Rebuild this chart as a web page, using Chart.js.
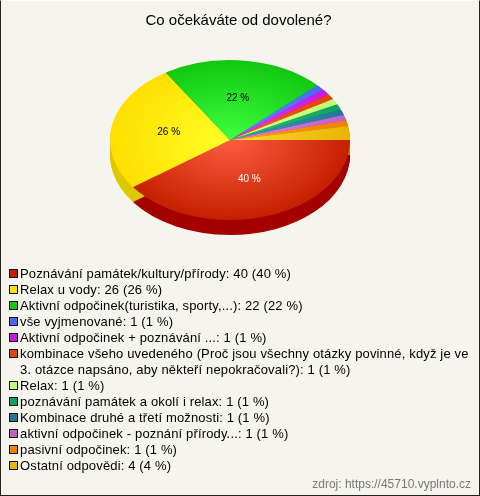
<!DOCTYPE html>
<html>
<head>
<meta charset="utf-8">
<script src="https://cdn.jsdelivr.net/npm/chart.js@4"></script>
<style>
  html, body { margin: 0; padding: 0; }
  #wrap { position: relative; width: 480px; height: 496px; box-sizing: border-box; background: #f5f5ee;
          border: 1px solid #222; border-top-color: #fff; overflow: hidden; }
  canvas { position: absolute; left: -1px; top: -1px; }
  #legend { position: absolute; left: 8px; top: 265px; width: 464px; font: 13px/16px 'Liberation Sans', Arial, sans-serif; letter-spacing: .15px; color: #000; }
  #legend div { position: relative; padding-left: 11px; }
  #legend i { position: absolute; left: 0; top: 3px; width: 7px; height: 7px; border: 1px solid #111; }
</style>
</head>
<body>
<div id="wrap">
  <canvas id="chart" width="480" height="496"></canvas>
  <div id="legend"></div>
</div>
<script>
const labels = [
  'Poznávání památek/kultury/přírody',
  'Relax u vody',
  'Aktivní odpočinek(turistika, sporty,...)',
  'vše vyjmenované',
  'Aktivní odpočinek + poznávání ...',
  'kombinace všeho uvedeného (Proč jsou všechny otázky povinné, když je ve 3. otázce napsáno, aby někteří nepokračovali?)',
  'Relax',
  'poznávání památek a okolí i relax',
  'Kombinace druhé a třetí možnosti',
  'aktivní odpočinek - poznání přírody...',
  'pasivní odpočinek',
  'Ostatní odpovědi',
];
const values = [40, 26, 22, 1, 1, 1, 1, 1, 1, 1, 1, 4];
const percents = [40, 26, 22, 1, 1, 1, 1, 1, 1, 1, 1, 4];
const sliceSizes = [40, 26, 22, 1.15, 1.15, 1.15, 1.15, 1.15, 1.15, 1.15, 1.15, 2.8];

// legend box / slice rim colour, lighter centre colour, side wall colour
const rimColors = ['#c42000', '#ffdf00', '#10c810', '#4a68f8', '#c818e0', '#e84000', '#c0ff70', '#10a060', '#1f7a98', '#c060c8', '#f08000', '#e8b400'];
const midColors = ['#ff5c40', '#ffff28', '#40ff40', '#6a88ff', '#e838ff', '#ff6020', '#d8ff90', '#30c080', '#3f9ab8', '#e080e8', '#ffa020', '#ffd830'];
const sideColors = ['#a50000', '#e0c800', '#0a9a0a', '#3040b0', '#9010a0', '#b03000', '#90c050', '#087040', '#105870', '#904898', '#b86000', '#b08800'];
const pieLabelColors = ['#fff', '#000', '#000'];

const pieX = 230, pieY = 140, squash = 2 / 3, depth = 15, labelRatio = 0.52;

function sliceGradient(ctx) {
  const chart = ctx.chart, a = chart.chartArea;
  if (!a) return rimColors[ctx.dataIndex];
  const cx = (a.left + a.right) / 2, cy = (a.top + a.bottom) / 2;
  const g = chart.ctx.createRadialGradient(cx, cy, 0, cx, cy, 120);
  g.addColorStop(0, midColors[ctx.dataIndex]);
  g.addColorStop(1, rimColors[ctx.dataIndex]);
  return g;
}

// squash the round pie into an ellipse, and paint the side wall under it
const tiltPlugin = {
  id: 'tilt',
  beforeDatasetsDraw(chart) {
    const c = chart.ctx, a = chart.chartArea;
    const cx = (a.left + a.right) / 2, cy = (a.top + a.bottom) / 2;
    c.save();
    c.translate(pieX, pieY);
    c.scale(1, squash);
    c.translate(-cx, -cy);
    chart.getDatasetMeta(0).data.forEach((arc, i) => {
      c.fillStyle = sideColors[i];
      for (let d = depth; d > 0; d--) {
        c.beginPath();
        c.moveTo(arc.x, arc.y + d / squash);
        c.arc(arc.x, arc.y + d / squash, arc.outerRadius, arc.startAngle, arc.endAngle);
        c.closePath();
        c.fill();
      }
    });
  },
  afterDatasetsDraw(chart) {
    const c = chart.ctx;
    c.restore();
    c.font = "10px 'Liberation Sans', Arial, sans-serif";
    c.textAlign = 'center';
    c.textBaseline = 'middle';
    chart.getDatasetMeta(0).data.forEach((arc, i) => {
      if (percents[i] < 20) return;
      const mid = (arc.startAngle + arc.endAngle) / 2;
      c.fillStyle = pieLabelColors[i];
      c.fillText(percents[i] + ' %',
        pieX + Math.cos(mid) * arc.outerRadius * labelRatio,
        pieY + Math.sin(mid) * arc.outerRadius * labelRatio * squash);
    });
  }
};

new Chart(document.getElementById('chart'), {
  type: 'pie',
  data: {
    labels: labels,
    datasets: [{
      data: sliceSizes,
      backgroundColor: sliceGradient,
      borderWidth: 0,
      radius: 120,
      clip: false
    }]
  },
  options: {
    responsive: false,
    animation: false,
    rotation: 90,
    layout: { padding: { left: 6, right: 9, bottom: 4 } },
    plugins: {
      legend: { display: false },
      tooltip: { enabled: false },
      title: {
        display: true,
        text: 'Co očekáváte od dovolené?',
        color: '#000',
        font: { family: "'Liberation Sans', Arial, sans-serif", size: 15, weight: 'normal' },
        padding: { top: 12, bottom: 6 }
      },
      subtitle: {
        display: true,
        position: 'bottom',
        align: 'end',
        text: 'zdroj: https://45710.vyplnto.cz',
        color: '#777',
        font: { family: "'Liberation Sans', Arial, sans-serif", size: 12, weight: 'normal' }
      }
    }
  },
  plugins: [tiltPlugin]
});

const legend = document.getElementById('legend');
labels.forEach((label, i) => {
  const row = document.createElement('div');
  row.textContent = label + ': ' + values[i] + ' (' + percents[i] + ' %)';
  const box = document.createElement('i');
  box.style.background = rimColors[i];
  row.appendChild(box);
  legend.appendChild(row);
});
</script>
</body>
</html>
